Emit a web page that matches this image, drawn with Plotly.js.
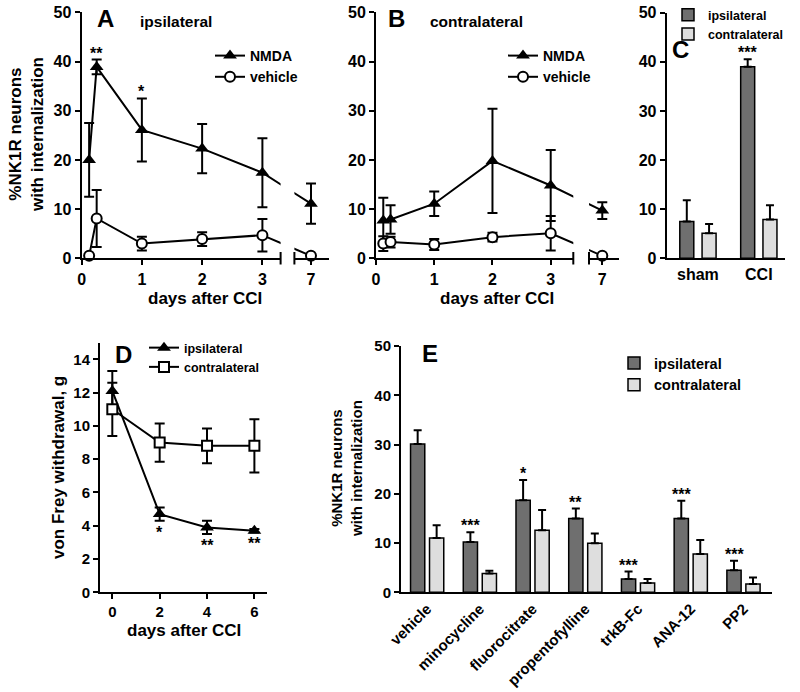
<!DOCTYPE html>
<html><head><meta charset="utf-8">
<script src="https://cdn.plot.ly/plotly-3.0.1.min.js"></script>
<style>html,body{margin:0;padding:0;background:#fff}#chart{width:800px;height:692px}</style>
</head><body><div id="chart"></div>
<script>
// ---------- DATA ----------
// Panels A/B: days after CCI
const daysAB = [0.125, 0.25, 1, 2, 3, 7];
const dayTicksAB = [0, 1, 2, 3];
// A: ipsilateral
const aNMDA = [20.0, 38.9, 26.1, 22.3, 17.4, 11.1];
const aNMDAerr = [7.5, 1.5, 6.4, 5.0, 7.0, 4.1];
const aVeh = [0.5, 8.1, 3.0, 3.9, 4.7, 0.5];
const aVehErr = [0, 5.8, 1.4, 1.4, 3.3, 0];
const aNMDAsig = ['', '**', '*', '', '', ''];
// B: contralateral
const bNMDA = [7.7, 7.9, 11.1, 19.8, 14.8, 9.7];
const bNMDAerr = [4.6, 2.9, 2.5, 10.6, 7.2, 1.7];
const bVeh = [3.0, 3.3, 2.8, 4.3, 5.1, 0.5];
const bVehErr = [1.5, 1.1, 1.1, 0.9, 3.5, 0];
// C: sham vs CCI
const cCats = ['sham', 'CCI'];
const cIpsi = [7.5, 39.0];
const cIpsiErr = [4.3, 1.5];
const cContra = [5.1, 7.9];
const cContraErr = [1.9, 2.9];
const cSig = ['', '***'];
// D: von Frey
const dDays = [0, 2, 4, 6];
const dIpsi = [12.1, 4.7, 3.9, 3.7];
const dIpsiErr = [1.2, 0.4, 0.4, 0.1];
const dContra = [11.0, 9.0, 8.8, 8.8];
const dContraErr = [1.6, 1.15, 1.05, 1.6];
const dSig = ['', '*', '**', '**'];
// E: treatments
const eCats = ['vehicle', 'minocycline', 'fluorocitrate', 'propentofylline', 'trkB-Fc', 'ANA-12', 'PP2'];
const eIpsi = [30.1, 10.2, 18.7, 15.0, 2.7, 15.0, 4.5];
const eIpsiErr = [2.8, 2.0, 4.1, 2.0, 1.5, 3.6, 1.9];
const eContra = [11.0, 3.8, 12.6, 9.95, 1.9, 7.8, 1.7];
const eContraErr = [2.6, 0.6, 4.1, 2.0, 0.8, 2.8, 1.3];
const eSig = ['', '***', '*', '**', '***', '***', '***'];

// ---------- STYLE / LAYOUT HELPERS ----------
const W = 800, H = 692;
const px = v => v / W;
const py = v => 1 - v / H;
const FONT = 'Liberation Sans, Arial, sans-serif';
const DARK = '#6f6f6f', LIGHT = '#dedede';
// broken-axis position of day 7
const brkA = d => d <= 3 ? d : 3 + (d - 3) * 0.2015;
const brkB = d => d <= 3 ? d : 3 + (d - 3) * 0.2215;
const zeros = a => a.map(() => 0);

const axBase = {showgrid: false, zeroline: false, showline: true, linecolor: '#000', linewidth: 2,
  ticks: 'outside', ticklen: 5, tickwidth: 2, tickcolor: '#000',
  tickfont: {family: FONT, size: 16, color: '#000', weight: 'bold'}, fixedrange: true};
const ax = o => Object.assign({}, axBase, o);
const eb = (arr, up) => up
  ? {type: 'data', array: arr, arrayminus: zeros(arr), symmetric: false, thickness: 2, width: 4, color: '#000'}
  : {type: 'data', array: arr, thickness: 2, width: 5, color: '#000'};

const tri = {symbol: 'triangle-up', size: 12, color: '#000'};
const circ = {symbol: 'circle', size: 10, color: '#fff', line: {color: '#000', width: 2}};
const sq = {symbol: 'square', size: 10, color: '#fff', line: {color: '#000', width: 2}};
const ln = {color: '#000', width: 2};

const traces = [];
function brokenSeries(days, ys, errs, mapF, xa1, xa2, ya, marker, name, legend) {
  const xs = days.map(mapF);
  traces.push({type: 'scatter', mode: 'lines+markers', x: xs, y: ys, error_y: eb(errs),
    marker: marker, line: ln, xaxis: xa1, yaxis: ya, cliponaxis: false, name: name, legend: legend});
  traces.push({type: 'scatter', mode: 'lines+markers', x: xs, y: ys, error_y: eb(errs),
    marker: marker, line: ln, xaxis: xa2, yaxis: ya, cliponaxis: false, showlegend: false, hoverinfo: 'skip'});
}
brokenSeries(daysAB, aNMDA, aNMDAerr, brkA, 'x', 'x2', 'y', tri, 'NMDA', 'legend');
brokenSeries(daysAB, aVeh, aVehErr, brkA, 'x', 'x2', 'y', circ, 'vehicle', 'legend');
brokenSeries(daysAB, bNMDA, bNMDAerr, brkB, 'x3', 'x4', 'y2', tri, 'NMDA', 'legend2');
brokenSeries(daysAB, bVeh, bVehErr, brkB, 'x3', 'x4', 'y2', circ, 'vehicle', 'legend2');

// C bars
const C_W = 0.23, C_OI = -0.298, C_OC = 0.068;
traces.push({type: 'bar', x: cCats, y: cIpsi, width: C_W, offset: C_OI, error_y: eb(cIpsiErr, true),
  marker: {color: DARK, line: {color: '#000', width: 1.5}}, xaxis: 'x5', yaxis: 'y3', name: 'ipsilateral', legend: 'legend3'});
traces.push({type: 'bar', x: cCats, y: cContra, width: C_W, offset: C_OC, error_y: eb(cContraErr, true),
  marker: {color: LIGHT, line: {color: '#000', width: 1.5}}, xaxis: 'x5', yaxis: 'y3', name: 'contralateral', legend: 'legend3'});

// D lines
traces.push({type: 'scatter', mode: 'lines+markers', x: dDays, y: dIpsi, error_y: eb(dIpsiErr),
  marker: tri, line: ln, xaxis: 'x6', yaxis: 'y4', cliponaxis: false, name: 'ipsilateral', legend: 'legend4'});
traces.push({type: 'scatter', mode: 'lines+markers', x: dDays, y: dContra, error_y: eb(dContraErr),
  marker: sq, line: ln, xaxis: 'x6', yaxis: 'y4', cliponaxis: false, name: 'contralateral', legend: 'legend4'});

// E bars
const E_W = 0.27, E_OI = -0.315, E_OC = 0.045;
traces.push({type: 'bar', x: eCats, y: eIpsi, width: E_W, offset: E_OI, error_y: eb(eIpsiErr, true),
  marker: {color: DARK, line: {color: '#000', width: 1.5}}, xaxis: 'x7', yaxis: 'y5', name: 'ipsilateral', legend: 'legend5'});
traces.push({type: 'bar', x: eCats, y: eContra, width: E_W, offset: E_OC, error_y: eb(eContraErr, true),
  marker: {color: LIGHT, line: {color: '#000', width: 1.5}}, xaxis: 'x7', yaxis: 'y5', name: 'contralateral', legend: 'legend5'});

// ---------- ANNOTATIONS ----------
const ann = [];
const txt = (x, y, text, size, extra) => ann.push(Object.assign({xref: 'paper', yref: 'paper', x: px(x), y: py(y),
  text: text, showarrow: false, xanchor: 'center', yanchor: 'middle',
  font: {family: FONT, size: size, color: '#000', weight: 'bold'}}, extra || {}));
txt(105, 19, 'A', 24); txt(396, 19, 'B', 24); txt(680, 50, 'C', 24); txt(123, 354, 'D', 24); txt(430, 353, 'E', 24);
txt(176, 22, 'ipsilateral', 15.5); txt(476, 22, 'contralateral', 15.5);
txt(26, 135, '%NK1R neurons<br>with internalization', 17, {textangle: -90});
txt(205, 298, 'days after CCI', 17); txt(497, 298, 'days after CCI', 17);
txt(58, 467, 'von Frey withdrawal, g', 17, {textangle: -90});
txt(184, 630, 'days after CCI', 17);
txt(346, 469, '%NK1R neurons<br>with internalization', 15, {textangle: -90});

const star = (xref, yref, x, y, s, below) => { if (!s) return; ann.push({xref: xref, yref: yref, x: x, y: y, text: s,
  showarrow: false, xanchor: 'center', yanchor: below ? 'top' : 'bottom', yshift: below ? -1 : -4,
  font: {family: FONT, size: 16, color: '#000', weight: 'bold'}}); };
daysAB.forEach((d, i) => star('x', 'y', brkA(d), aNMDA[i] + aNMDAerr[i], aNMDAsig[i]));
cCats.forEach((c, i) => star('x5', 'y3', i + C_OI + C_W / 2, cIpsi[i] + cIpsiErr[i], cSig[i]));
dDays.forEach((d, i) => star('x6', 'y4', d, dIpsi[i] - dIpsiErr[i], dSig[i], true));
eCats.forEach((c, i) => star('x7', 'y5', i + E_OI + E_W / 2, eIpsi[i] + eIpsiErr[i], eSig[i]));

// break marks on the A/B x axes
const shapes = [];
[280.6, 294.4, 573.3, 589].forEach(x => shapes.push({type: 'line', xref: 'paper', yref: 'paper',
  x0: px(x), x1: px(x), y0: py(264.5), y1: py(252), line: {color: '#000', width: 2}}));

const legBase = {bgcolor: 'rgba(0,0,0,0)', xanchor: 'left', yanchor: 'top', traceorder: 'normal', itemclick: false};
const leg = (x, y, size) => Object.assign({}, legBase, {x: px(x), y: py(y), font: {family: FONT, size: size, color: '#000', weight: 'bold'}});

const yAB = [py(258.3), py(12.3)];
const layout = {
  width: W, height: H, margin: {l: 0, r: 0, t: 0, b: 0, autoexpand: false}, paper_bgcolor: '#fff', plot_bgcolor: 'rgba(0,0,0,0)',
  barmode: 'overlay', showlegend: true, hovermode: false,
  xaxis: ax({domain: [px(81.6), px(280.6)], range: [0, 3.302], anchor: 'y', tickvals: dayTicksAB}),
  xaxis2: ax({domain: [px(294.4), px(329)], range: [3.531, 4.105], anchor: 'y', tickvals: [brkA(7)], ticktext: ['7']}),
  yaxis: ax({domain: yAB, range: [0, 50], anchor: 'x', dtick: 10}),
  xaxis3: ax({domain: [px(376), px(573.3)], range: [0, 3.388], anchor: 'y2', tickvals: dayTicksAB}),
  xaxis4: ax({domain: [px(589), px(619)], range: [3.658, 4.173], anchor: 'y2', tickvals: [brkB(7)], ticktext: ['7']}),
  yaxis2: ax({domain: yAB, range: [0, 50], anchor: 'x3', dtick: 10}),
  xaxis5: ax({domain: [px(666.7), px(785)], range: [-0.513, 1.43], anchor: 'y3', type: 'category', ticks: ''}),
  yaxis3: ax({domain: [py(258.3), py(12.7)], range: [0, 50], anchor: 'x5', dtick: 10}),
  xaxis6: ax({domain: [px(100), px(266.7)], range: [-0.52, 6.52], anchor: 'y4', tickvals: dDays,
    tickfont: {family: FONT, size: 15, color: '#000', weight: 'bold'}}),
  yaxis4: ax({domain: [py(592.3), py(342.7)], range: [0, 15], anchor: 'x6', tickvals: [0, 2, 4, 6, 8, 10, 12, 14],
    tickfont: {family: FONT, size: 15, color: '#000', weight: 'bold'}}),
  xaxis7: ax({domain: [px(401), px(771.7)], range: [-0.496, 6.535], anchor: 'y5', type: 'category', ticks: '', tickangle: -45,
    tickfont: {family: FONT, size: 15, color: '#000', weight: 'bold'}}),
  yaxis5: ax({domain: [py(592.3), py(346)], range: [0, 50], anchor: 'x7', dtick: 10,
    tickfont: {family: FONT, size: 15, color: '#000', weight: 'bold'}}),
  legend: leg(210, 40, 14),
  legend2: leg(503, 40, 14),
  legend3: leg(668, 0, 12.5),
  legend4: leg(144, 333, 12.5),
  legend5: leg(614, 347, 14.5),
  annotations: ann, shapes: shapes
};
Plotly.newPlot('chart', traces, layout, {staticPlot: true, displayModeBar: false});
</script></body></html>
